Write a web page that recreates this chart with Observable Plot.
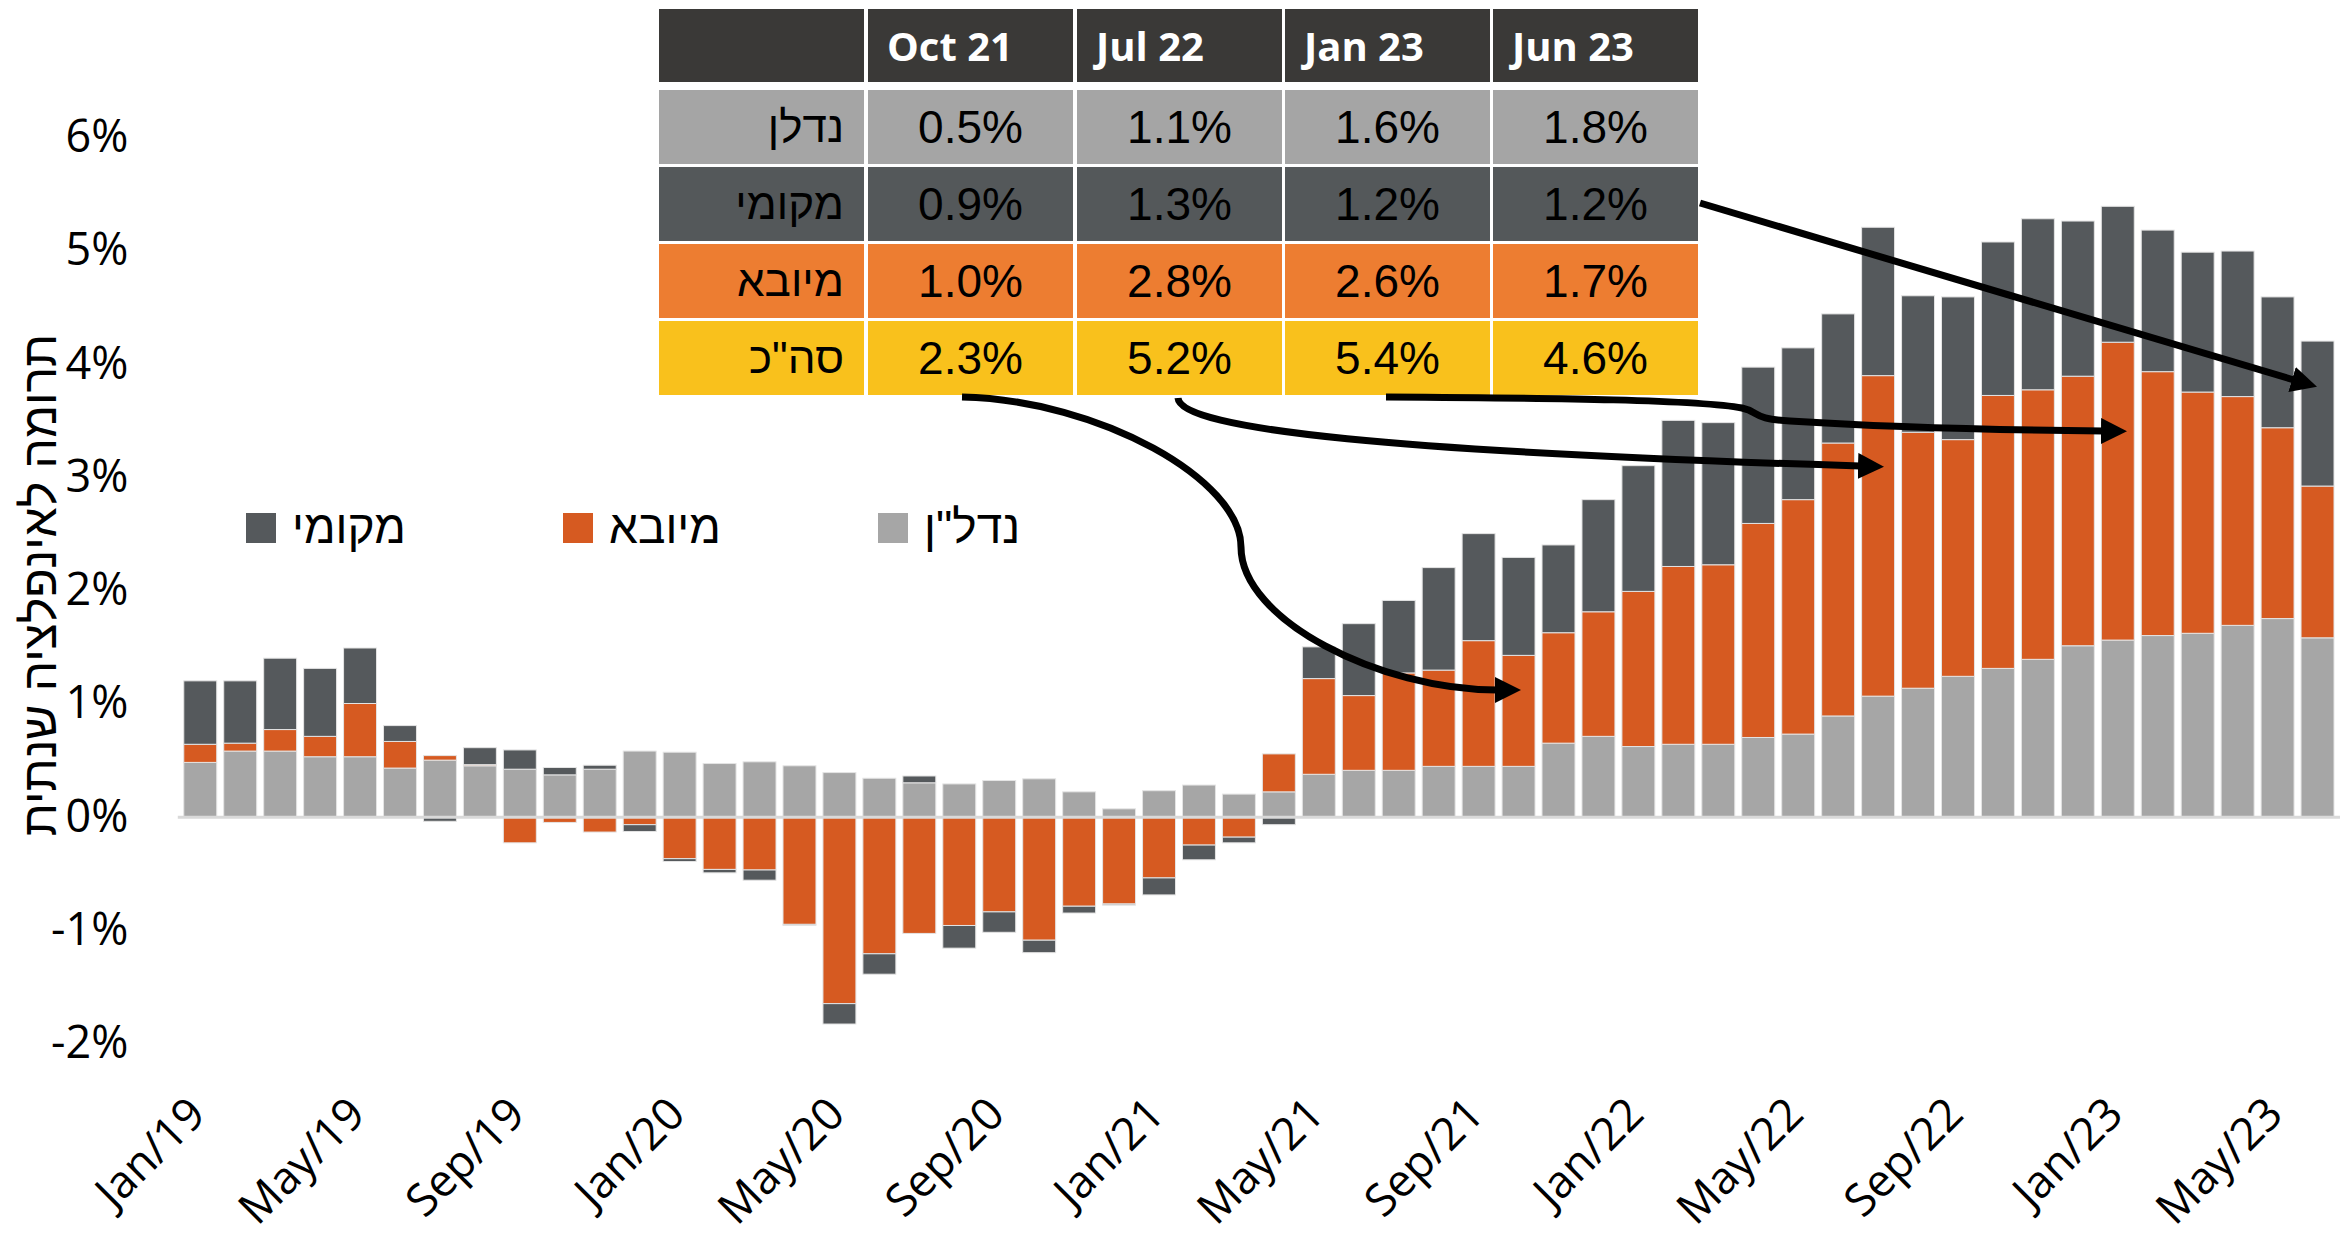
<!DOCTYPE html>
<html><head><meta charset="utf-8">
<script src="https://cdn.jsdelivr.net/npm/d3@7"></script>
<script src="https://cdn.jsdelivr.net/npm/@observablehq/plot@0.6"></script>
<style>
html,body{margin:0;padding:0;background:#fff;overflow:hidden;}
#wrap{position:relative;width:2340px;height:1236px;overflow:hidden;background:#fff;}
#chart{position:absolute;left:0;top:0;}
#ytitle{position:absolute;left:40px;top:585px;transform:translate(-50%,-50%) rotate(-90deg);white-space:nowrap;font-family:"Liberation Sans",Arial,sans-serif;font-size:48px;color:#000;line-height:1;}
.lg-sw{position:absolute;width:30px;height:30px;}
.lg-tx{position:absolute;font-family:"Liberation Sans",Arial,sans-serif;font-size:46px;line-height:46px;color:#000;white-space:nowrap;}
.cell{position:absolute;box-sizing:border-box;display:flex;align-items:center;white-space:nowrap;}
.hd{background:#3a3937;color:#fff;font-family:"Open Sans",sans-serif;font-weight:700;font-size:40px;padding-left:19px;}
.rl{justify-content:flex-end;padding-right:20px;font-family:"Liberation Sans",Arial,sans-serif;font-size:44px;color:#000;}
.num{justify-content:center;font-family:"Liberation Sans",Arial,sans-serif;font-size:46px;color:#000;}
#arrows{position:absolute;left:0;top:0;pointer-events:none;}
</style></head><body>
<div id="wrap">
  <div id="chart"></div>
  <div id="ytitle" dir="rtl">תרומה לאינפלציה שנתית</div>
  <div id="legend"></div>
  <div id="table"></div>
  <svg id="arrows" width="2340" height="1236" viewBox="0 0 2340 1236">
    <defs>
      <marker id="ah" markerUnits="userSpaceOnUse" markerWidth="28" markerHeight="28" refX="2" refY="13" orient="auto">
        <path d="M0,0 L26,13 L0,26 Z" fill="#000"/>
      </marker>
    </defs>
    <g fill="none" stroke="#000" stroke-width="7" stroke-linecap="butt">
      <path d="M962,397 C1100,400 1241,480 1241,547 C1241,620 1380,690 1497,690" marker-end="url(#ah)"/>
      <path d="M1178,398 C1180,430 1400,452 1860,466" marker-end="url(#ah)"/>
      <path d="M1386,397 C1560,398 1700,400 1742,408 C1760,412 1752,419 1790,421 C1900,428 2000,430 2103,431" marker-end="url(#ah)"/>
      <path d="M1700,203 L2294,380" marker-end="url(#ah)"/>
    </g>
  </svg>
</div>
<script>
const months = ["Jan/19","Feb/19","Mar/19","Apr/19","May/19","Jun/19","Jul/19","Aug/19","Sep/19","Oct/19","Nov/19","Dec/19",
"Jan/20","Feb/20","Mar/20","Apr/20","May/20","Jun/20","Jul/20","Aug/20","Sep/20","Oct/20","Nov/20","Dec/20",
"Jan/21","Feb/21","Mar/21","Apr/21","May/21","Jun/21","Jul/21","Aug/21","Sep/21","Oct/21","Nov/21","Dec/21",
"Jan/22","Feb/22","Mar/22","Apr/22","May/22","Jun/22","Jul/22","Aug/22","Sep/22","Oct/22","Nov/22","Dec/22",
"Jan/23","Feb/23","Mar/23","Apr/23","May/23","Jun/23"];
const realEstate = [0.48,0.58,0.58,0.53,0.53,0.43,0.50,0.45,0.42,0.37,0.42,0.58,
0.57,0.47,0.485,0.45,0.39,0.34,0.30,0.29,0.32,0.335,0.22,0.07,
0.23,0.28,0.20,0.22,0.375,0.41,0.41,0.445,0.445,0.445,0.65,0.71,
0.62,0.64,0.64,0.70,0.73,0.89,1.065,1.135,1.24,1.31,1.39,1.51,
1.56,1.60,1.62,1.69,1.75,1.58];
const imported = [0.16,0.07,0.19,0.18,0.47,0.235,0.04,0.01,-0.23,-0.05,-0.135,-0.07,
-0.37,-0.465,-0.47,-0.95,-1.65,-1.21,-1.03,-0.96,-0.84,-1.09,-0.79,-0.77,
-0.54,-0.25,-0.18,0.335,0.845,0.66,0.86,0.85,1.11,0.98,0.975,1.10,
1.37,1.57,1.585,1.89,2.07,2.41,2.83,2.26,2.09,2.41,2.38,2.38,
2.63,2.33,2.13,2.02,1.685,1.34];
const local = [0.56,0.55,0.63,0.60,0.49,0.14,-0.04,0.15,0.17,0.065,0.035,-0.06,
-0.025,-0.03,-0.09,-0.01,-0.18,-0.18,0.06,-0.20,-0.18,-0.11,-0.06,-0.01,
-0.15,-0.13,-0.05,-0.07,0.28,0.635,0.64,0.905,0.945,0.865,0.775,0.99,
1.11,1.29,1.255,1.38,1.34,1.14,1.31,1.205,1.26,1.355,1.51,1.37,
1.20,1.25,1.235,1.285,1.155,1.28];
const seriesNames = ['נדל"ן','מיובא','מקומי'];
const seriesColors = ["#a6a6a6","#d65a21","#55595c"];
const yTicks = [-2,-1,0,1,2,3,4,5,6];
const xTickLabels = months.filter((d,i)=>i%4===0);
const legendOrder = ['מקומי','מיובא','נדל"ן'];
const tableCols = ["Oct 21","Jul 22","Jan 23","Jun 23"];
const tableRowNames = ["נדלן","מקומי","מיובא",'סה"כ'];
const tableRealEstate = [0.5,1.1,1.6,1.8];
const tableLocal = [0.9,1.3,1.2,1.2];
const tableImported = [1.0,2.8,2.6,1.7];
const tableTotal = [2.3,5.2,5.4,4.6];
const tableRowColors = ["#a5a5a5","#54585a","#ed7d31","#f9c11c"];

const seriesValues = [realEstate, imported, local];
const data = months.flatMap((m,i)=>seriesNames.map((s,k)=>({month:m, series:s, value:seriesValues[k][i]})));

const chart = Plot.plot({
  width: 2343, height: 1236,
  marginLeft: 178, marginRight: 0, marginTop: 137.4, marginBottom: 168.7,
  x: {domain: months, paddingInner: 0.176, paddingOuter: 0.088, axis: null},
  y: {domain: [-2.2, 6], axis: null},
  color: {domain: seriesNames, range: seriesColors},
  style: {fontFamily: "'Open Sans', sans-serif", background: "transparent", color: "#000"},
  marks: [
    Plot.barY(data, {x: "month", y: "value", fill: "series", order: seriesNames, stroke: "#e4e4e4", strokeWidth: 1}),
    Plot.ruleY([0], {stroke: "#d9d9d9", strokeWidth: 3}),
    Plot.axisY({ticks: yTicks, tickSize: 0, tickPadding: 50, tickFormat: d => d + "%", fontSize: 45, label: null, fill: "#000"}),
    Plot.axisX({ticks: xTickLabels, tickRotate: -45, tickSize: 0, tickPadding: 40, fontSize: 45, dx: -3, label: null, fill: "#000"})
  ]
});
document.getElementById("chart").appendChild(chart);

// legend
const legend = document.getElementById("legend");
const lgSwatchX = [246, 563, 878];
legendOrder.forEach((name, i) => {
  const sw = document.createElement("div");
  sw.className = "lg-sw";
  sw.style.left = lgSwatchX[i] + "px"; sw.style.top = "513px";
  sw.style.background = seriesColors[seriesNames.indexOf(name)];
  legend.appendChild(sw);
  const tx = document.createElement("div");
  tx.className = "lg-tx"; tx.dir = "rtl";
  tx.style.left = (lgSwatchX[i] + 46) + "px"; tx.style.top = "504px";
  tx.textContent = name;
  legend.appendChild(tx);
});

// table
const table = document.getElementById("table");
const colX = [659, 868, 1077, 1285, 1493];
const colW = 205;
const rowY = [90, 167, 244, 321];
const rowH = 74;
function cell(cls, x, y, w, h, bg, text) {
  const d = document.createElement("div");
  d.className = "cell " + cls;
  Object.assign(d.style, {left: x + "px", top: y + "px", width: w + "px", height: h + "px", background: bg});
  const s = document.createElement("span");
  s.textContent = text;
  d.appendChild(s);
  table.appendChild(d);
  return s;
}
cell("hd", colX[0], 9, colW, 73, "#3a3937", "");
tableCols.forEach((c, j) => cell("hd", colX[j+1], 9, colW, 73, "#3a3937", c));
const tableVals = [tableRealEstate, tableLocal, tableImported, tableTotal];
tableRowNames.forEach((r, i) => {
  const s = cell("rl", colX[0], rowY[i], colW, rowH, tableRowColors[i], r);
  s.dir = "rtl";
  tableVals[i].forEach((v, j) => cell("num", colX[j+1], rowY[i], colW, rowH, tableRowColors[i], v.toFixed(1) + "%"));
});
</script>
</body></html>
